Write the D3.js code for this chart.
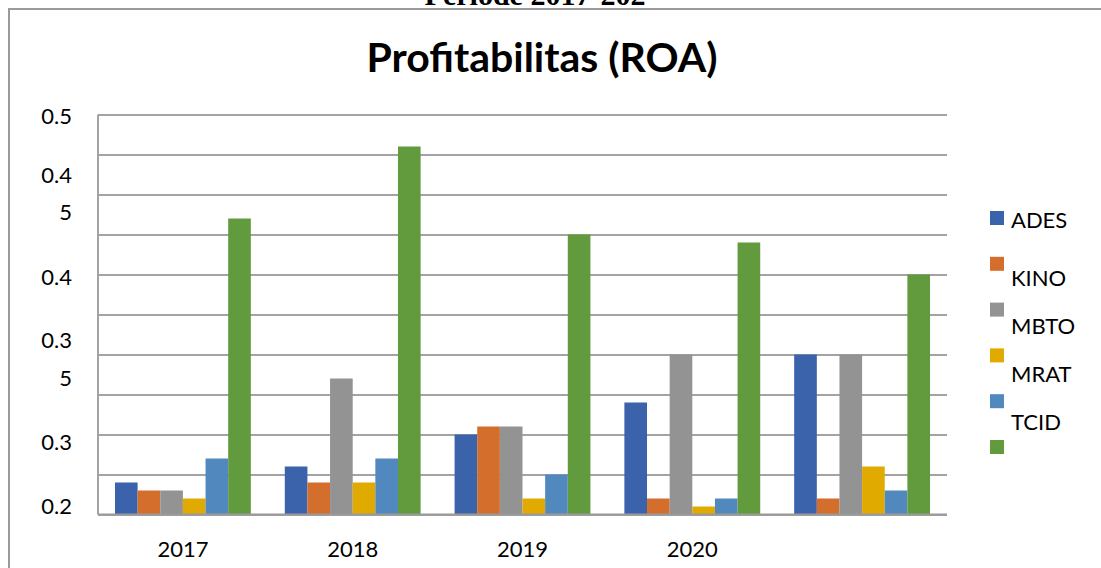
<!DOCTYPE html>
<html>
<head>
<meta charset="utf-8">
<script src="https://cdn.jsdelivr.net/npm/d3@7"></script>
<style>
    html, body { margin: 0; padding: 0; background: #fff; }
    #chart { width: 1101px; height: 568px; }
    text { font-family: Lato, "Open Sans", sans-serif; fill: #000; }
</style>
</head>
<body>
<div id="chart"></div>
<script>
// Profitabilitas (ROA) - grouped bars

const categories = ["2017", "2018", "2019", "2020", ""];
const seriesNames = ["ADES", "KINO", "MBTO", "MRAT", "TCID", ""];
const seriesColors = ["#3a63ac", "#d36e2c", "#939393", "#e0aa00", "#5188be", "#629b3d"];

const adesValues = [0.04, 0.06, 0.10, 0.14, 0.20];
const kinoValues = [0.03, 0.04, 0.11, 0.02, 0.02];
const mbtoValues = [0.03, 0.17, 0.11, 0.20, 0.20];
const mratValues = [0.02, 0.04, 0.02, 0.01, 0.06];
const tcidValues = [0.07, 0.07, 0.05, 0.02, 0.03];
const greenValues = [0.37, 0.46, 0.35, 0.34, 0.30];

const seriesValues = [adesValues, kinoValues, mbtoValues, mratValues, tcidValues, greenValues];

// axis labels as they appear (garbled) and where they sit on the value scale
const yTickLabels = ["0.5", "0.4", "5", "0.4", "0.3", "5", "0.3", "0.2"];
const yTickPositions = [0.498, 0.424, 0.378, 0.297, 0.218, 0.171, 0.091, 0.011];
const gridStep = 0.05;

const width = 1101;
const height = 568;
const plot = { left: 98, right: 947, top: 114.5, bottom: 514.5 };

const svg = d3.select("#chart").append("svg")
    .attr("width", width)
    .attr("height", height)
    .attr("viewBox", `0 0 ${width} ${height}`);

// outer frame (right side runs off the page)
svg.append("rect")
    .attr("x", 9)
    .attr("y", 9)
    .attr("width", width + 20)
    .attr("height", height + 20)
    .attr("fill", "none")
    .attr("stroke", "#9a9a9a")
    .attr("stroke-width", 2);

// cut-off heading above the frame
svg.append("text")
    .attr("x", 535)
    .attr("y", 5)
    .attr("text-anchor", "middle")
    .style("font-family", "'Liberation Serif', serif")
    .style("font-weight", "bold")
    .style("font-size", "30px")
    .text("Periode 2017-202");

svg.append("text")
    .attr("x", 542)
    .attr("y", 72)
    .attr("text-anchor", "middle")
    .style("font-weight", "bold")
    .style("font-size", "41px")
    .text("Profitabilitas (ROA)");

const x0 = d3.scaleBand()
    .domain(categories)
    .range([plot.left, plot.right])
    .paddingInner(0.2)
    .paddingOuter(0.1);

const x1 = d3.scaleBand()
    .domain(d3.range(seriesNames.length))
    .range([0, x0.bandwidth()]);

const y = d3.scaleLinear()
    .domain([0, 0.5])
    .range([plot.bottom, plot.top]);

const gridTicks = d3.range(0, 0.5 + 1e-9, gridStep);

const grid = svg.append("g")
    .attr("transform", `translate(${plot.left},0)`)
    .call(d3.axisLeft(y)
        .tickValues(gridTicks)
        .tickSize(-(plot.right - plot.left))
        .tickFormat(""));
grid.select(".domain").remove();
grid.selectAll("line")
    .attr("stroke", "#a3a3a3")
    .attr("stroke-width", 2);

// vertical axis line
svg.append("line")
    .attr("x1", plot.left)
    .attr("x2", plot.left)
    .attr("y1", y(0.5))
    .attr("y2", y(0))
    .attr("stroke", "#a3a3a3")
    .attr("stroke-width", 2);

const groups = svg.append("g")
    .selectAll("g")
    .data(categories)
    .join("g")
    .attr("transform", d => `translate(${x0(d)},0)`);

groups.selectAll("rect")
    .data((d, ci) => seriesValues.map((vals, si) => ({ si, value: vals[ci] })))
    .join("rect")
    .attr("x", d => x1(d.si))
    .attr("width", x1.bandwidth())
    .attr("y", d => y(d.value))
    .attr("height", d => y(0) - y(d.value))
    .attr("fill", d => seriesColors[d.si]);

// baseline on top of bars
svg.append("line")
    .attr("x1", plot.left)
    .attr("x2", plot.right)
    .attr("y1", y(0))
    .attr("y2", y(0))
    .attr("stroke", "#9a9a9a")
    .attr("stroke-width", 2);

svg.append("g")
    .selectAll("text")
    .data(yTickLabels)
    .join("text")
    .attr("x", 72)
    .attr("y", (d, i) => y(yTickPositions[i]))
    .attr("dy", "0.36em")
    .attr("text-anchor", "end")
    .style("font-size", "22px")
    .text(d => d);

svg.append("g")
    .selectAll("text")
    .data(categories)
    .join("text")
    .attr("x", d => x0(d) + x0.bandwidth() / 2)
    .attr("y", 557)
    .attr("text-anchor", "middle")
    .style("font-size", "22px")
    .text(d => d);

// legend: swatches and labels drift apart, as in the source
const legend = svg.append("g");
legend.selectAll("rect")
    .data(seriesNames)
    .join("rect")
    .attr("x", 990)
    .attr("y", (d, i) => 211 + i * 45.8)
    .attr("width", 14)
    .attr("height", 14)
    .attr("fill", (d, i) => seriesColors[i]);

legend.selectAll("text")
    .data(seriesNames)
    .join("text")
    .attr("x", 1011)
    .attr("y", (d, i) => i === 0 ? 228 : 286 + (i - 1) * 48)
    .style("font-size", "22px")
    .text(d => d);
</script>
</body>
</html>
